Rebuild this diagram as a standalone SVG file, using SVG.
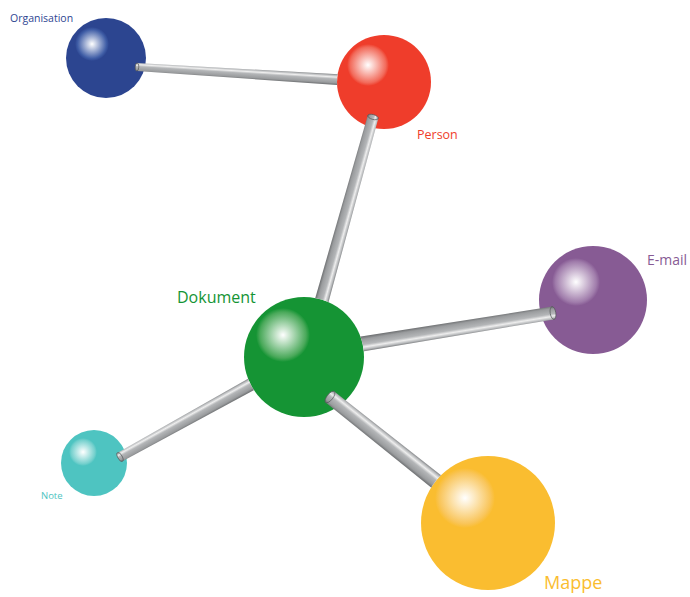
<svg xmlns="http://www.w3.org/2000/svg" width="690" height="597" viewBox="0 0 690 597">
<defs>
<style>
.lbl{font-family:"Open Sans","Noto Sans","Liberation Sans",sans-serif}
.rod{fill:url(#rodG)}
.cap{fill:url(#rodG);stroke:#55585a;stroke-width:0.7}
</style>
<linearGradient id="rodG" x1="0" y1="0" x2="0" y2="1">
<stop offset="0" stop-color="#7c7e80"/>
<stop offset="0.12" stop-color="#b8babc"/>
<stop offset="0.28" stop-color="#eeeeee"/>
<stop offset="0.45" stop-color="#b4b6b8"/>
<stop offset="0.8" stop-color="#9a9c9e"/>
<stop offset="1" stop-color="#6a6c6e"/>
</linearGradient>
<radialGradient id="hOrg"><stop offset="0" stop-color="#ffffff"/><stop offset="0.85" stop-color="#3f5da6"/><stop offset="1" stop-color="#2c4590"/></radialGradient>
<radialGradient id="hPer"><stop offset="0" stop-color="#ffffff"/><stop offset="0.85" stop-color="#f26a5a"/><stop offset="1" stop-color="#ef3d2b"/></radialGradient>
<radialGradient id="hDok"><stop offset="0" stop-color="#ffffff"/><stop offset="0.85" stop-color="#4aa95a"/><stop offset="1" stop-color="#159434"/></radialGradient>
<radialGradient id="hEm"><stop offset="0" stop-color="#ffffff"/><stop offset="0.85" stop-color="#a07cab"/><stop offset="1" stop-color="#875b94"/></radialGradient>
<radialGradient id="hNo"><stop offset="0" stop-color="#ffffff"/><stop offset="0.85" stop-color="#74d0cd"/><stop offset="1" stop-color="#4ec4c1"/></radialGradient>
<radialGradient id="hMa"><stop offset="0" stop-color="#ffffff"/><stop offset="0.85" stop-color="#f9c55a"/><stop offset="1" stop-color="#fabd30"/></radialGradient>
<mask id="mPer" maskUnits="userSpaceOnUse" x="0" y="0" width="690" height="597"><rect width="690" height="597" fill="#fff"/><circle cx="384" cy="82" r="47" fill="#000"/></mask>
<mask id="mDok" maskUnits="userSpaceOnUse" x="0" y="0" width="690" height="597"><rect width="690" height="597" fill="#fff"/><circle cx="304" cy="357" r="60" fill="#000"/></mask>
<mask id="mMa" maskUnits="userSpaceOnUse" x="0" y="0" width="690" height="597"><rect width="690" height="597" fill="#fff"/><circle cx="488" cy="523" r="67" fill="#000"/></mask>
</defs>
<rect width="690" height="597" fill="#ffffff"/>

<g id="organisation">
<circle cx="106" cy="58" r="40" fill="#2c4590"/>
<circle cx="92" cy="44" r="17" fill="url(#hOrg)"/>
<text class="lbl" x="10" y="22" font-size="10.5" fill="#2e4592">Organisation</text>
</g>
<g id="person">
<circle cx="384" cy="82" r="47" fill="#ef3d2b"/>
<circle cx="368" cy="65" r="21" fill="url(#hPer)"/>
<text class="lbl" x="417" y="139" font-size="12.5" fill="#ef3d2b">Person</text>
</g>
<g id="dokument">
<circle cx="304" cy="357" r="60" fill="#159434"/>
<circle cx="283" cy="335" r="27" fill="url(#hDok)"/>
<text class="lbl" x="177" y="303" font-size="16" fill="#159434">Dokument</text>
</g>
<g id="email">
<circle cx="593" cy="300" r="54" fill="#875b94"/>
<circle cx="576" cy="282" r="24" fill="url(#hEm)"/>
<text class="lbl" x="647" y="265" font-size="14" fill="#875b94">E-mail</text>
</g>
<g id="note">
<circle cx="94" cy="463" r="33" fill="#4ec4c1"/>
<circle cx="83" cy="452" r="14" fill="url(#hNo)"/>
<text class="lbl" x="41" y="499" font-size="9.5" fill="#4ec4c1">Note</text>
</g>
<g id="mappe">
<circle cx="488" cy="523" r="67" fill="#fabd30"/>
<circle cx="465" cy="498" r="30" fill="url(#hMa)"/>
<text class="lbl" x="544" y="589" font-size="18" fill="#fabd30">Mappe</text>
</g>

<g id="connectors">
<g mask="url(#mPer)">
<g transform="translate(137,67) rotate(3.6)">
<polygon class="rod" points="0,-4 215,-5.5 215,5.5 0,4"/>
<ellipse class="cap" cx="0" cy="0" rx="1.8" ry="4"/>
</g>
</g>
<g mask="url(#mDok)">
<g transform="translate(373,117) rotate(105.6)">
<polygon class="rod" points="0,-5.5 200,-7 200,7 0,5.5"/>
<ellipse class="cap" cx="0" cy="0" rx="2.4" ry="5.5"/>
</g>
</g>
<g mask="url(#mDok)">
<g transform="translate(553,313) rotate(170.8)">
<polygon class="rod" points="0,-6.5 200,-7.5 200,7.5 0,6.5"/>
<ellipse class="cap" cx="0" cy="0" rx="2.8" ry="6.5"/>
</g>
</g>
<g mask="url(#mDok)">
<g transform="translate(120,457) rotate(-29)">
<polygon class="rod" points="0,-5 160,-6.5 160,6.5 0,5"/>
<ellipse class="cap" cx="0" cy="0" rx="2.2" ry="5"/>
</g>
</g>
<g mask="url(#mMa)">
<g transform="translate(330,397) rotate(38.5)">
<polygon class="rod" points="0,-7 155,-8 155,8 0,7"/>
<ellipse class="cap" cx="0" cy="0" rx="3" ry="7"/>
</g>
</g>
</g>
</svg>
